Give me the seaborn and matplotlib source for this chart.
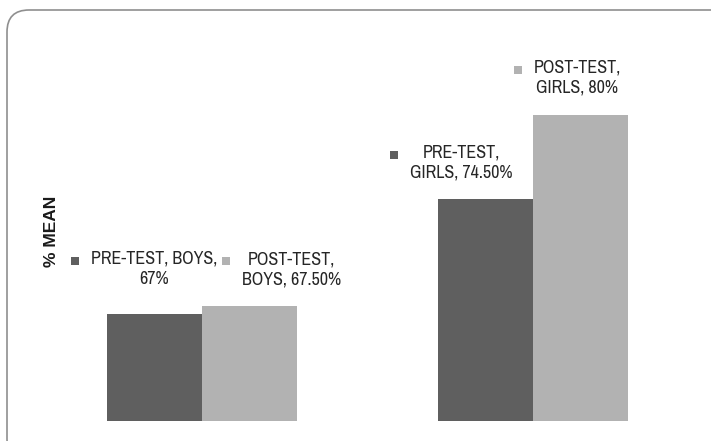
import matplotlib
matplotlib.use("Agg")
import pandas as pd
import matplotlib.pyplot as plt
import seaborn as sns
from matplotlib import font_manager
from matplotlib.patches import FancyBboxPatch, Rectangle
from matplotlib.transforms import IdentityTransform

# DATI
GROUPS = ["BOYS", "GIRLS"]
TESTS = ["PRE-TEST", "POST-TEST"]
PRE_TEST = [67.0, 74.5]
POST_TEST = [67.5, 80.0]
# etichette come nel grafico originale (una riga per test, una colonna per gruppo)
BAR_LABELS = [
    ["PRE-TEST, BOYS,\n67%", "PRE-TEST,\nGIRLS, 74.50%"],
    ["POST-TEST,\nBOYS, 67.50%", "POST-TEST,\nGIRLS, 80%"],
]
Y_LABEL = "% MEAN"

# STILE
COLORS = ["#5f5f5f", "#b2b2b2"]
TEXT_COLOR = "#262626"
# spostamento (pixel) del centro etichetta rispetto alla cima della barra
LABEL_OFFSETS = [
    [(0, 45), (-24, 36)],
    [(42, 37), (-3, 37)],
]

# cerca un font stretto tipo Arial Narrow
ttf = font_manager.fontManager.ttflist
narrow = sorted({f.name for f in ttf if "Narrow" in f.name})
if narrow:
    LABEL_FONT = dict(family=[narrow[0], "DejaVu Sans"])
else:
    cond = sorted({f.name for f in ttf if str(f.stretch) in ("condensed", "semi-condensed")
                   or "Condensed" in f.fname})
    if cond:
        LABEL_FONT = dict(family=[cond[0], "DejaVu Sans"], stretch="condensed")
    else:
        LABEL_FONT = dict(family=["Liberation Sans", "DejaVu Sans"])

sns.set_theme(style="white")
plt.rcParams["font.family"] = ["Liberation Sans", "DejaVu Sans"]

df = pd.DataFrame({
    "group": GROUPS * 2,
    "test": [TESTS[0]] * 2 + [TESTS[1]] * 2,
    "value": PRE_TEST + POST_TEST,
})

fig = plt.figure(figsize=(7.11, 4.41), dpi=100)
ax = fig.add_axes([36.5 / 711, 1 - 421 / 441, 662 / 711, 383 / 441])

sns.barplot(data=df, x="group", y="value", hue="test", hue_order=TESTS,
            order=GROUPS, palette=COLORS, width=0.574, saturation=1,
            linewidth=0, legend=False, ax=ax)

ax.set_ylim(60, 85)
ax.set_xlim(-0.5, 1.5)
ax.set_xticks([])
ax.set_yticks([])
ax.set_xlabel("")
ax.set_ylabel(Y_LABEL, fontsize=12.5, fontweight="bold", color="#1a1a1a")
ax.yaxis.set_label_coords(0.034, 0.495)
sns.despine(ax=ax, left=True, bottom=True)

texts = []
for i, container in enumerate(ax.containers):
    for j, bar in enumerate(container):
        dx, dy = LABEL_OFFSETS[i][j]
        t = ax.annotate(BAR_LABELS[i][j],
                        xy=(bar.get_x() + bar.get_width() / 2, bar.get_height()),
                        xytext=(dx, dy), textcoords="offset pixels",
                        ha="center", va="center", multialignment="center",
                        fontsize=13, color=TEXT_COLOR, linespacing=1.3,
                        **LABEL_FONT)
        texts.append((t, COLORS[i]))

# quadratino della legenda a sinistra di ogni etichetta
renderer = fig.canvas.get_renderer()
for t, col in texts:
    bb = t.get_window_extent(renderer)
    line_h = bb.height / 2
    cy = bb.y1 - line_h / 2 - 1
    sq = Rectangle((bb.x0 - 12 - 8, cy - 4), 8, 8, facecolor=col,
                   edgecolor="none", transform=IdentityTransform())
    fig.add_artist(sq)

# cornice arrotondata
frame = FancyBboxPatch((7, -20), 740, 451, boxstyle="round,pad=0,rounding_size=22",
                       facecolor="none", edgecolor="#8f8f8f", linewidth=1.2,
                       transform=IdentityTransform())
fig.add_artist(frame)

fig.savefig("out.png", dpi=100)
